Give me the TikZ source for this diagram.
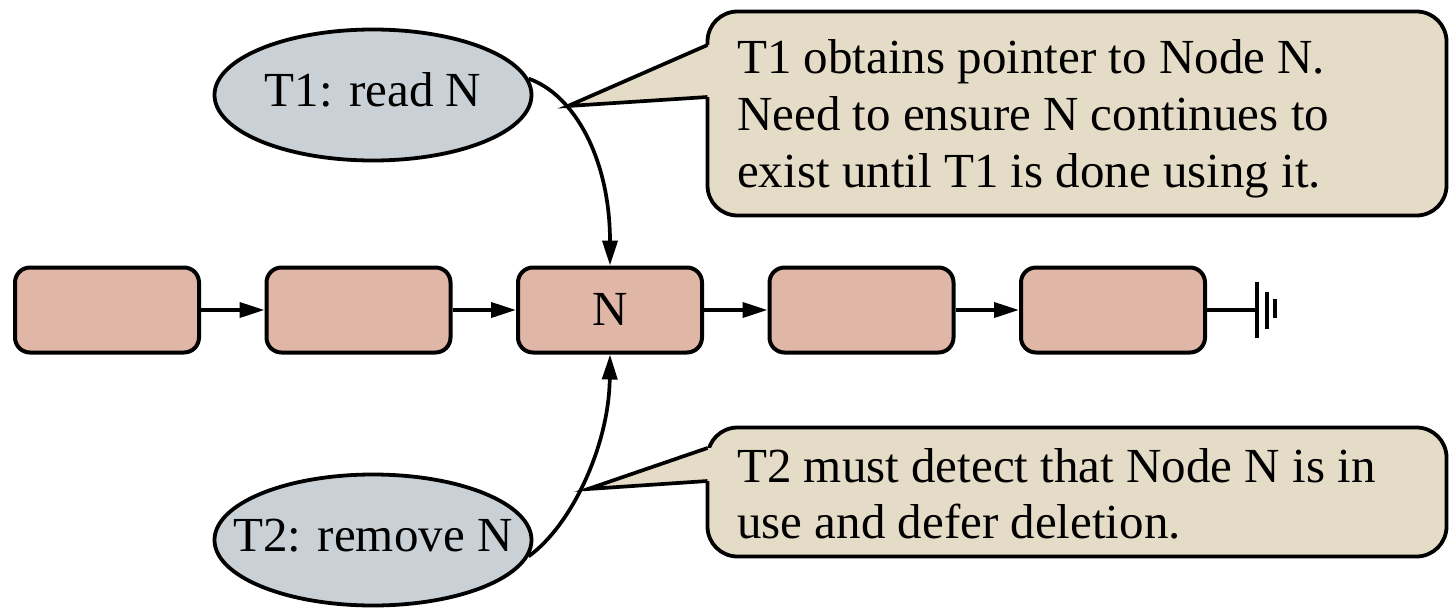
\documentclass[tikz,border=0pt]{standalone}
\usepackage{fontspec}
\setmainfont{Liberation Serif}
\usetikzlibrary{arrows.meta,shapes.geometric}

\definecolor{boxfill}{HTML}{E0B6A6}
\definecolor{thrfill}{HTML}{C9D1D6}
\definecolor{notefill}{HTML}{E5DCC7}

\tikzset{
  big/.style={font=\fontsize{49}{57}\selectfont},
  lnode/.style={draw, line width=4pt, rounded corners=15pt, fill=boxfill,
    minimum width=184pt, minimum height=85pt, inner sep=0pt,
    text height=31pt, text depth=0pt, big},
  thread/.style={ellipse, draw, line width=3.8pt, fill=thrfill,
    minimum width=317pt, minimum height=131pt, inner sep=0pt},
  thrtext/.style={big, inner sep=0pt, text height=33pt, text depth=10pt},
  note/.style={draw, line width=3.8pt, rounded corners=30pt, fill=notefill,
    minimum width=739pt, inner sep=0pt},
  notetext/.style={big, anchor=base west, inner sep=0pt},
  link/.style={line width=3.7pt, -{Triangle[length=25pt,width=15pt]}},
  wire/.style={line width=3.7pt},
}

\begin{document}
\begin{tikzpicture}[x=1pt,y=-1pt]
  \useasboundingbox (0,0) rectangle (1451,608);

  % linked list
  \node[lnode] (b1) at (107,310) {};
  \node[lnode] (b2) at (358.5,310) {};
  \node[lnode] (b3) at (610,310) {N};
  \node[lnode] (b4) at (861.5,310) {};
  \node[lnode] (b5) at (1113,310) {};
  \draw[link] (b1.east) -- (b2.west);
  \draw[link] (b2.east) -- (b3.west);
  \draw[link] (b3.east) -- (b4.west);
  \draw[link] (b4.east) -- (b5.west);

  % null terminator (ground symbol)
  \coordinate (gnd) at (1257,310);
  \draw[wire] (b5.east) -- (gnd);
  \draw[wire] (gnd) ++(0,-28) -- ++(0,56);
  \draw[wire] (gnd) ++(10,-18.5) -- ++(0,37);
  \draw[wire] (gnd) ++(18,-11) -- ++(0,19);

  % threads
  \node[thread] (t1) at (373,95) {};
  \node[thrtext] (t1text) at (t1.center) {T1: read N};
  \node[thread] (t2) at (373,540) {};
  \node[thrtext] (t2text) at (t2.center) {T2: remove N};

  \draw[link] (t1.6) .. controls (575,95) and (610,160) .. (b3.north);
  \draw[link] (t2.-6) .. controls (572,525) and (609,445) .. (b3.south);

  % callout for T1
  \node[note, minimum height=204pt] (c1) at (1077,113.5) {};
  \coordinate (tip1) at (568,106);
  \fill[notefill] (tip1) -- (707.5,45) -- (712,45) -- (712,97) -- (707.5,97) -- cycle;
  \draw[wire, line join=miter] (707.5,45) -- (tip1) -- (707.5,97);
  \node[notetext] (n1a) at (737,73) {T1 obtains pointer to Node N.};
  \node[notetext] (n1b) at (737,130) {Need to ensure N continues to};
  \node[notetext] (n1c) at (737,187) {exist until T1 is done using it.};

  % callout for T2
  \node[note, minimum height=129pt] (c2) at (1077,492) {};
  \coordinate (tip2) at (588,489);
  \fill[notefill] (tip2) -- (707.5,448) -- (712,448) -- (712,481) -- (707.5,481) -- cycle;
  \draw[wire, line join=miter] (707.5,448) -- (tip2) -- (707.5,481);
  \node[notetext] (n2a) at (737,482) {T2 must detect that Node N is in};
  \node[notetext] (n2b) at (737,538) {use and defer deletion.};
\end{tikzpicture}
\end{document}
